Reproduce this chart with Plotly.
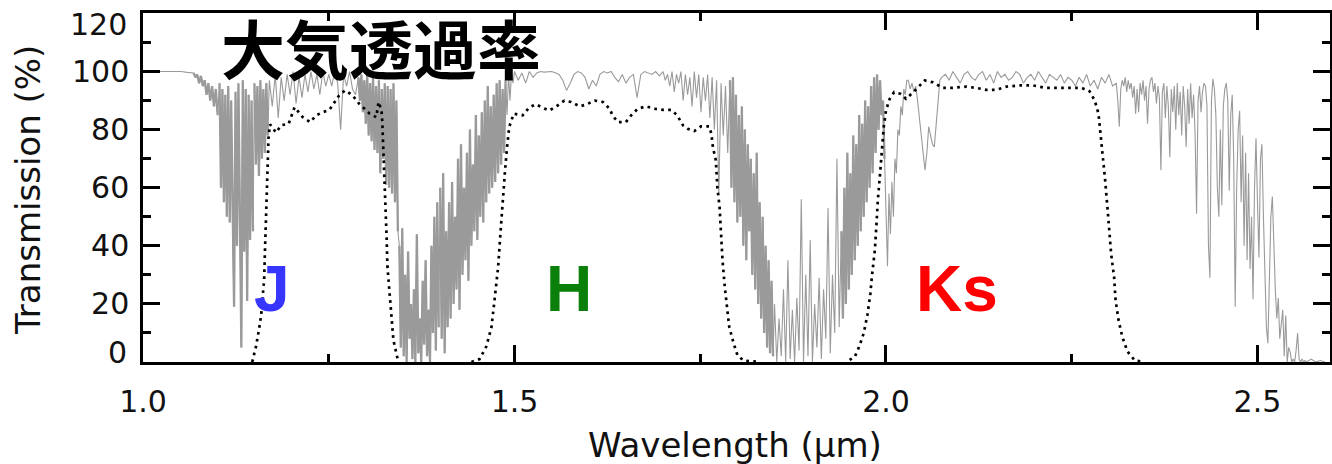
import numpy as np
import plotly.graph_objects as go

# ---------------- data ----------------
# Atmospheric transmission (%), given as segments: (start um, end um, values)
atm_a = (1.000, 1.068, [100, 100, 99.9, 100, 100, 99.8, 100, 99.7])
atm_b = (1.068, 1.103, [99.5, 98, 99, 96, 98.5, 95, 97, 92, 96, 90, 95, 88, 94, 85])
atm_c = (1.103, 1.150, [96, 60, 94, 55, 92, 50, 95, 48, 90, 44, 19, 93, 40, 96, 35, 5,
                        97, 38, 94, 21, 92, 42, 90, 45])
atm_d = (1.150, 1.170, [96, 68, 95, 64, 97, 70, 94, 72, 96, 78])
atm_e = (1.170, 1.290, [97, 88, 99, 84, 98, 90, 99, 92, 100, 89, 98, 91, 99, 93, 100, 94,
                        99, 92, 100, 95, 99, 95, 100, 96, 80, 99, 95, 100, 94, 92])
atm_f = (1.290, 1.345, [98, 90, 99, 86, 97, 82, 99, 78, 96, 76, 98, 73, 95, 72, 97, 65,
                        94, 70, 96, 61, 95, 60, 94, 58, 96, 55, 90, 45])
atm_g = (1.345, 1.400, [40, 5, 46, 2, 30, 0, 38, 8, 20, 1, 25, 0, 44, 3, 15, 0, 28, 6,
                        35, 2, 18, 0, 40, 10, 50, 4, 55, 12])
atm_h = (1.400, 1.490, [60, 8, 65, 3, 45, 12, 55, 15, 62, 20, 50, 25, 70, 18, 75, 30, 60,
                        35, 72, 28, 80, 40, 68, 45, 85, 42, 78, 50, 86, 48, 90, 55, 95,
                        58, 88, 60, 92, 62, 96, 65, 97, 68, 94, 72, 97])
atm_i = (1.490, 1.500, [85, 99, 90, 100, 96])
atm_j = (1.500, 1.700, [100, 97, 99.5, 96, 100, 98, 99.5, 100, 99.8, 100, 100, 99.6, 99,
                        97, 93.5, 96, 99, 100, 99.5, 98, 94, 97, 95, 99, 100, 99.5, 100,
                        98, 96.5, 99, 96, 98, 99, 91, 99, 100, 99.5, 99, 100, 98.5])
atm_k = (1.700, 1.790, [100, 97, 99, 95, 100, 93, 99, 96, 100, 90, 99, 92, 98, 88, 100,
                        91, 99, 86, 98, 90, 99, 84, 98, 80, 97, 58, 96, 78, 95, 72])
atm_l = (1.790, 1.850, [97, 60, 98, 55, 92, 48, 85, 50, 88, 40, 80, 35, 75, 45, 70, 30,
                        65, 25, 72, 20, 55, 15, 50, 10, 40, 5, 35, 3, 28, 2])
atm_m = (1.850, 1.940, [20, 0, 15, 2, 25, 0, 35, 1, 18, 0, 22, 4, 56, 0, 30, 2, 42, 0,
                        20, 5, 29, 1, 25, 8, 53, 3, 30, 10, 70, 12])
atm_n = (1.940, 2.000, [45, 15, 60, 20, 72, 25, 65, 30, 78, 35, 75, 40, 85, 45, 82, 50,
                        90, 55, 88, 60, 95, 65, 98, 72, 99, 80, 97, 85, 90, 70])
atm_o = (2.000, 2.030, [60, 33, 58, 44, 62, 50, 70, 65, 80, 78, 88, 85, 94, 92, 97])
atm_p = (2.030, 2.075, [97, 94, 96, 93, 95, 90, 84, 76, 70, 66, 72, 81, 78, 75, 74, 82,
                        92, 97])
atm_q = (2.075, 2.310, [98, 99, 97, 100, 98, 96, 99, 100, 98, 97, 99, 100, 97, 99, 96,
                        100, 98, 99, 97, 98, 100, 99, 96, 98, 99, 97, 100, 98, 96, 99,
                        98, 97, 99, 96, 98, 97, 95, 98, 96, 99, 95, 97, 94, 98, 96, 99, 95])
atm_r = (2.310, 2.430, [96, 90, 81, 94, 97, 95, 98, 93, 97, 94, 96, 91, 95, 85.5, 94, 86,
                        96, 92, 97, 90, 95, 82, 94, 97, 98, 93, 96, 89, 95, 91, 66, 93,
                        96, 84, 95, 88, 70.5, 94, 86, 95, 80, 96, 85, 93, 78, 95, 88, 74,
                        94, 82, 96, 84, 92, 79, 51, 90, 95, 86, 93, 96])
atm_s = (2.430, 2.566, [95, 88, 40, 29, 90, 97.5, 94, 85, 60, 50, 80, 54, 88, 94, 96, 90,
                        59, 85, 92, 70, 19, 60, 80, 86.5, 55, 78, 40, 72, 35, 65, 32, 50,
                        21.6, 60, 77, 55, 36, 70, 75, 50, 30, 12, 6.5, 35, 50, 57, 40, 25,
                        15, 22, 8, 12, 18, 2, 16, 0, 5, 3.5, 0, 1, 0, 4, 10, 1, 0, 1, 0,
                        0.5])
atm_t = (2.566, 2.597, [0, 1, 0, 0.5, 0])

atm_segments = [atm_a, atm_b, atm_c, atm_d, atm_e, atm_f, atm_g, atm_h, atm_i, atm_j,
                atm_k, atm_l, atm_m, atm_n, atm_o, atm_p, atm_q, atm_r, atm_s, atm_t]
# segments that look like a solid grey band in the picture
atm_dense = [atm_b, atm_c, atm_d, atm_f, atm_g, atm_h, atm_l, atm_n]

# Filter transmission curves (um, %)
J_wl = [1.147, 1.152, 1.156, 1.159, 1.161, 1.163, 1.164, 1.165, 1.166, 1.167, 1.168,
        1.169, 1.171, 1.179, 1.186, 1.196, 1.204, 1.215, 1.225, 1.233, 1.242, 1.251,
        1.264, 1.272, 1.282, 1.291, 1.305, 1.314, 1.317, 1.321, 1.322, 1.323, 1.324,
        1.326, 1.327, 1.328, 1.329, 1.332, 1.334, 1.337, 1.342, 1.345]
J_tr = [0, 5.3, 11, 16, 22.5, 28, 37, 44, 53, 62.5, 70.5, 77.4, 81.8, 79, 81.5, 82,
        87.7, 84.3, 82.6, 84.9, 86, 86.8, 91.8, 93.5, 91.8, 88.9, 85.5, 84.3, 89.5,
        86.6, 83, 76.3, 67, 60, 51, 42, 32.8, 23.6, 15.6, 7.6, 1.8, 0]

H_wl = [1.442, 1.453, 1.462, 1.469, 1.473, 1.478, 1.481, 1.484, 1.487, 1.490, 1.493,
        1.499, 1.511, 1.520, 1.529, 1.538, 1.547, 1.558, 1.567, 1.576, 1.588, 1.597,
        1.608, 1.619, 1.628, 1.632, 1.639, 1.650, 1.657, 1.666, 1.677, 1.688, 1.700,
        1.711, 1.719, 1.727, 1.733, 1.742, 1.751, 1.762, 1.765, 1.767, 1.771, 1.773,
        1.776, 1.778, 1.780, 1.783, 1.786, 1.789, 1.795, 1.800, 1.808, 1.830]
H_tr = [0, 1, 5.3, 12, 21, 32.8, 44, 55.7, 65, 74, 81, 85.5, 84.9, 87.7, 88.7, 87.5,
        86.6, 88.3, 90, 89.5, 88, 88.7, 90, 89.5, 87.2, 84.9, 82.6, 82.6, 84.9, 87.2,
        88, 87.2, 86.8, 86.8, 84.9, 81.4, 80.3, 79.5, 81.1, 81.1, 78.6, 74, 69.4, 60.3,
        53.4, 44.2, 35, 25.9, 19, 12.1, 6.4, 2.4, 0.5, 0]

Ks_wl = [1.951, 1.958, 1.964, 1.970, 1.975, 1.979, 1.981, 1.985, 1.987, 1.989, 1.992,
         1.995, 1.997, 2.000, 2.005, 2.011, 2.020, 2.027, 2.038, 2.052, 2.063, 2.076,
         2.090, 2.108, 2.121, 2.135, 2.148, 2.162, 2.180, 2.198, 2.214, 2.232, 2.250,
         2.263, 2.274, 2.281, 2.286, 2.289, 2.291, 2.295, 2.298, 2.301, 2.303, 2.307,
         2.309, 2.313, 2.318, 2.325, 2.335, 2.348]
Ks_tr = [0.7, 1.8, 5.3, 9.9, 16.2, 23.6, 29.3, 38.5, 46.5, 55.7, 64.8, 74, 80.9, 86.6,
         90.6, 92.9, 92.3, 90.6, 93.2, 96.9, 96.3, 94.4, 94.4, 94.8, 94.4, 93.7, 93.7,
         94.8, 95.2, 95.2, 94.4, 94.4, 94.4, 94.4, 93.2, 90, 85.5, 78.6, 71.7, 62.5,
         53.4, 44.2, 37.3, 29.3, 21.3, 14.4, 8.7, 3.6, 0.5, 0]

x_tick_vals = [1.0, 1.5, 2.0, 2.5]
x_tick_text = ["1.0", "1.5", "2.0", "2.5"]
y_tick_vals = [0, 20, 40, 60, 80, 100, 120]
# the end labels (0 and 120) sit a little inside the axis ends in the picture
y_tick_text = ["", "20", "40", "60", "80", "100", ""]
y_end_labels = ["0", "120"]

band_labels = ["J", "H", "Ks"]
band_colors = ["#3636ff", "#0a800a", "#ff0000"]
band_x = [1.173, 1.574, 2.096]


# ---------------- build series ----------------
def seg_points(seg):
    start, end, vals = seg
    return np.linspace(start, end, len(vals), endpoint=False).tolist(), list(vals)


atm_wl, atm_tr = [], []
for seg in atm_segments:
    w, t = seg_points(seg)
    atm_wl.extend(w)
    atm_tr.extend(t)

dense_wl, dense_tr = [], []
for seg in atm_dense:
    w, t = seg_points(seg)
    dense_wl.extend(w + [None])
    dense_tr.extend(t + [None])

fig = go.Figure()
fig.add_trace(go.Scatter(x=atm_wl, y=atm_tr, mode="lines",
                         line=dict(color="#9a9a9a", width=1.1), hoverinfo="skip",
                         showlegend=False))
fig.add_trace(go.Scatter(x=dense_wl, y=dense_tr, mode="lines", connectgaps=False,
                         line=dict(color="#9a9a9a", width=2.3), hoverinfo="skip",
                         showlegend=False))
for wl, tr in [(J_wl, J_tr), (H_wl, H_tr), (Ks_wl, Ks_tr)]:
    fig.add_trace(go.Scatter(x=wl, y=tr, mode="lines",
                             line=dict(color="black", width=2.7, dash="2.7px,4.3px"),
                             showlegend=False))

tick_font = dict(family="DejaVu Sans", size=30, color="#111111")
axis_common = dict(showline=True, linecolor="black", linewidth=2.5, mirror="ticks",
                   ticks="inside", ticklen=17, tickwidth=2.5, tickcolor="black",
                   showgrid=False, zeroline=False, automargin=False,
                   tickfont=tick_font)

fig.update_layout(
    width=1332, height=464,
    margin=dict(l=143, r=2, t=13, b=102, autoexpand=False),
    paper_bgcolor="white", plot_bgcolor="white",
    xaxis=dict(range=[1.0, 2.5976], tickvals=x_tick_vals, ticktext=x_tick_text,
               minor=dict(dtick=0.25, tick0=1.0, ticks="inside", ticklen=8,
                          tickwidth=2.5, tickcolor="black"),
               ticklabelstandoff=11, **axis_common),
    yaxis=dict(range=[0, 120.15], tickvals=y_tick_vals, ticktext=y_tick_text,
               minor=dict(dtick=10, tick0=0, ticks="inside", ticklen=8,
                          tickwidth=2.5, tickcolor="black"),
               ticklabelstandoff=5, **axis_common),
)

for lab, py in zip(y_end_labels, [0.026, 0.966]):
    fig.add_annotation(x=-0.0121, y=py, xref="paper", yref="paper", text=lab,
                       showarrow=False, xanchor="right", yanchor="middle",
                       font=tick_font)

title_font = dict(family="DejaVu Sans", size=34, color="#111111")
fig.add_annotation(x=0.4987, y=-0.238, xref="paper", yref="paper",
                   text="Wavelength (µm)", showarrow=False,
                   xanchor="center", yanchor="middle", font=title_font)
fig.add_annotation(x=-0.0969, y=0.493, xref="paper", yref="paper",
                   text="Transmission (%)", showarrow=False, textangle=-90,
                   xanchor="center", yanchor="middle", font=title_font)

fig.add_annotation(x=1.320, y=108.7, xref="x", yref="y", text="大気透過率",
                   showarrow=False, xanchor="center", yanchor="middle",
                   font=dict(family="Noto Sans CJK JP", size=64, color="black",
                             weight="bold"))
for lab, col, bx in zip(band_labels, band_colors, band_x):
    fig.add_annotation(x=bx, y=25, xref="x", yref="y", text=lab, showarrow=False,
                       xanchor="center", yanchor="middle",
                       font=dict(family="Liberation Sans", size=64, color=col,
                                 weight="bold"))

# remove the browser's default 8 px body margin so the figure fills the window
fig.write_html("out.html", config={"displayModeBar": False},
               post_script="document.body.style.margin='0';")
